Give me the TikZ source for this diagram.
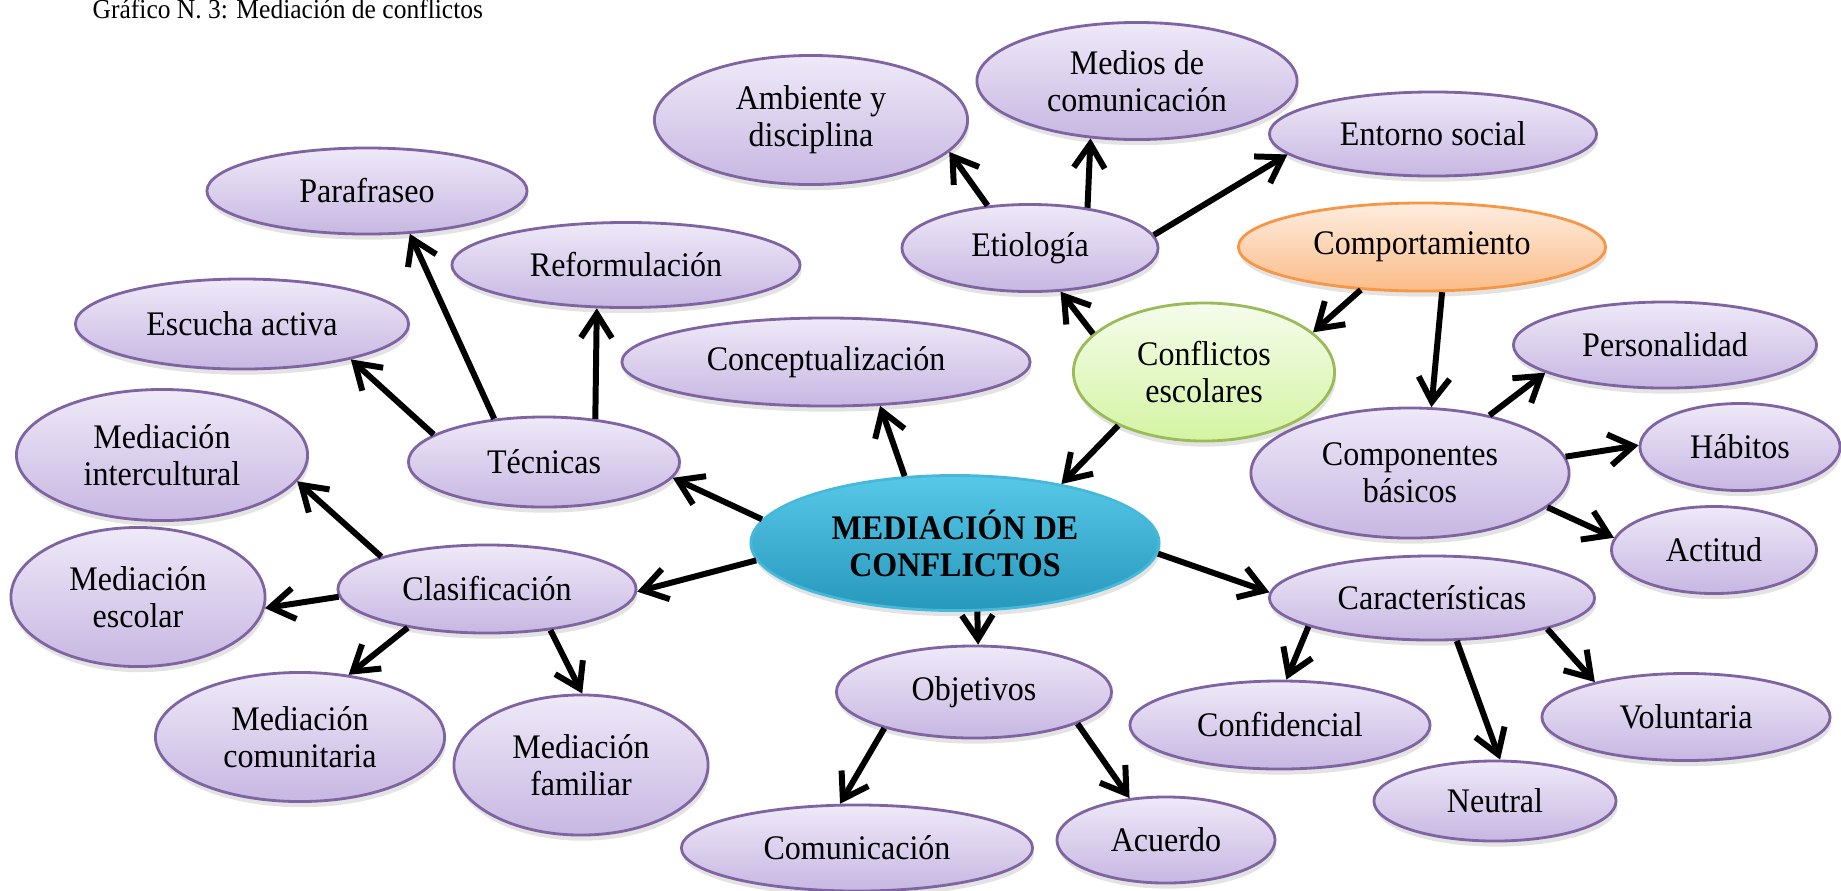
\documentclass[tikz,border=0pt]{standalone}
\usepackage{fontspec}
\setmainfont{Liberation Serif}[FakeStretch=0.93]
\usetikzlibrary{shapes.geometric,arrows.meta,shadows}

\definecolor{lila}{RGB}{128,100,162}
\definecolor{lilaA}{RGB}{239,233,248}
\definecolor{lilaB}{RGB}{199,183,226}
\definecolor{celeste}{RGB}{70,185,218}
\definecolor{celesteA}{RGB}{88,200,232}
\definecolor{celesteB}{RGB}{38,152,188}
\definecolor{naranja}{RGB}{247,150,70}
\definecolor{naranjaA}{RGB}{254,237,224}
\definecolor{naranjaB}{RGB}{251,188,136}
\definecolor{verde}{RGB}{155,187,89}
\definecolor{verdeA}{RGB}{245,252,236}
\definecolor{verdeB}{RGB}{212,244,162}

\begin{document}
\begin{tikzpicture}[x=0.01cm,y=-0.01cm,
  bub/.style={ellipse,draw=lila,line width=0.8pt,top color=lilaA,bottom color=lilaB,
    inner sep=0pt,align=center,font=\fontsize{9.8}{10.6}\selectfont,
    drop shadow={opacity=0.22,shadow xshift=0.4pt,shadow yshift=-1.6pt}},
  flecha/.style={line width=1.7pt,-{Straight Barb[length=2.4mm,width=3.1mm]}}]

\useasboundingbox (0,0) rectangle (1841,890);

\node[anchor=base west,inner sep=0pt,font=\fontsize{7.8}{9}\selectfont] (tit) at (92,18) {Gráfico N. 3: Mediación de conflictos};

% centro
\node[bub,draw=celeste,top color=celesteA,bottom color=celesteB,minimum width=4.08cm,minimum height=1.35cm,
  font=\fontsize{9.8}{10.5}\selectfont\bfseries] (mc) at (955,543) {MEDIACIÓN DE\\CONFLICTOS};

% arriba
\node[bub,minimum width=3.13cm,minimum height=1.29cm] (amb) at (811,120) {Ambiente y\\disciplina};
\node[bub,minimum width=3.20cm,minimum height=1.17cm] (med) at (1137,81) {Medios de\\comunicación};
\node[bub,minimum width=3.27cm,minimum height=0.84cm] (ent) at (1433,134) {Entorno social};
\node[bub,minimum width=2.56cm,minimum height=0.87cm] (eti) at (1030,248) {Etiología};
\node[bub,draw=naranja,top color=naranjaA,bottom color=naranjaB,minimum width=3.67cm,minimum height=0.88cm] (com) at (1422,247) {Comportamiento};
\node[bub,draw=verde,top color=verdeA,bottom color=verdeB,minimum width=2.61cm,minimum height=1.38cm] (ces) at (1204,372) {Conflictos\\escolares};
\node[bub,minimum width=4.08cm,minimum height=0.88cm] (con) at (826,362) {Conceptualización};

% izquierda
\node[bub,minimum width=3.20cm,minimum height=0.86cm] (par) at (367,191) {Parafraseo};
\node[bub,minimum width=3.48cm,minimum height=0.85cm] (ref) at (626,265) {Reformulación};
\node[bub,minimum width=3.33cm,minimum height=0.90cm] (esc) at (242,324) {Escucha activa};
\node[bub,minimum width=2.71cm,minimum height=0.90cm] (tec) at (544,462) {Técnicas};
\node[bub,minimum width=2.91cm,minimum height=1.31cm] (mint) at (162,455) {Mediación\\intercultural};
\node[bub,minimum width=2.98cm,minimum height=0.88cm] (cla) at (487,589) {Clasificación};
\node[bub,minimum width=2.54cm,minimum height=1.39cm] (mesc) at (138,597) {Mediación\\escolar};
\node[bub,minimum width=2.89cm,minimum height=1.29cm] (mcom) at (300,737) {Mediación\\comunitaria};
\node[bub,minimum width=2.54cm,minimum height=1.40cm] (mfam) at (581,765) {Mediación\\familiar};

% abajo
\node[bub,minimum width=2.75cm,minimum height=0.92cm] (obj) at (974,692) {Objetivos};
\node[bub,minimum width=3.51cm,minimum height=0.86cm] (comu) at (857,848) {Comunicación};
\node[bub,minimum width=2.18cm,minimum height=0.86cm] (acu) at (1166,840) {Acuerdo};

% derecha
\node[bub,minimum width=3.03cm,minimum height=0.86cm] (per) at (1665,345) {Personalidad};
\node[bub,minimum width=3.18cm,minimum height=1.30cm] (cb) at (1410,473) {Componentes\\básicos};
\node[bub,minimum width=2.00cm,minimum height=0.87cm] (hab) at (1740,447) {Hábitos};
\node[bub,minimum width=2.05cm,minimum height=0.87cm] (act) at (1714,550) {Actitud};
\node[bub,minimum width=3.25cm,minimum height=0.84cm] (car) at (1432,598) {Características};
\node[bub,minimum width=3.00cm,minimum height=0.88cm] (conf) at (1280,725) {Confidencial};
\node[bub,minimum width=2.88cm,minimum height=0.87cm] (vol) at (1686,717) {Voluntaria};
\node[bub,minimum width=2.42cm,minimum height=0.80cm] (neu) at (1495,801) {Neutral};

\foreach \a/\b in {mc.173/tec.-7,mc.185/cla.-1,mc.127/con.-39,mc.-72/obj.85,mc.-3/car.178,
    ces.212/mc.29,ces.161/eti.-55,com.215/ces.20,com.-66/cb.72,
    eti.135/amb.-13,eti.35/med.231,eti.6/ent.188,
    tec.166/esc.-18,tec.139/par.-45,tec.40/ref.236,
    cla.163/mint.-11,cla.183/mesc.-5,cla.206/mcom.52,cla.-33/mfam.89,
    obj.202/comu.111,obj.-17/acu.131,
    car.193/conf.82,car.-60/neu.83,car.-15/vol.159,
    cb.36/per.193,cb.6/hab.179,cb.-14/act.173}
  \draw[flecha](\a)--(\b);

\end{tikzpicture}
\end{document}
